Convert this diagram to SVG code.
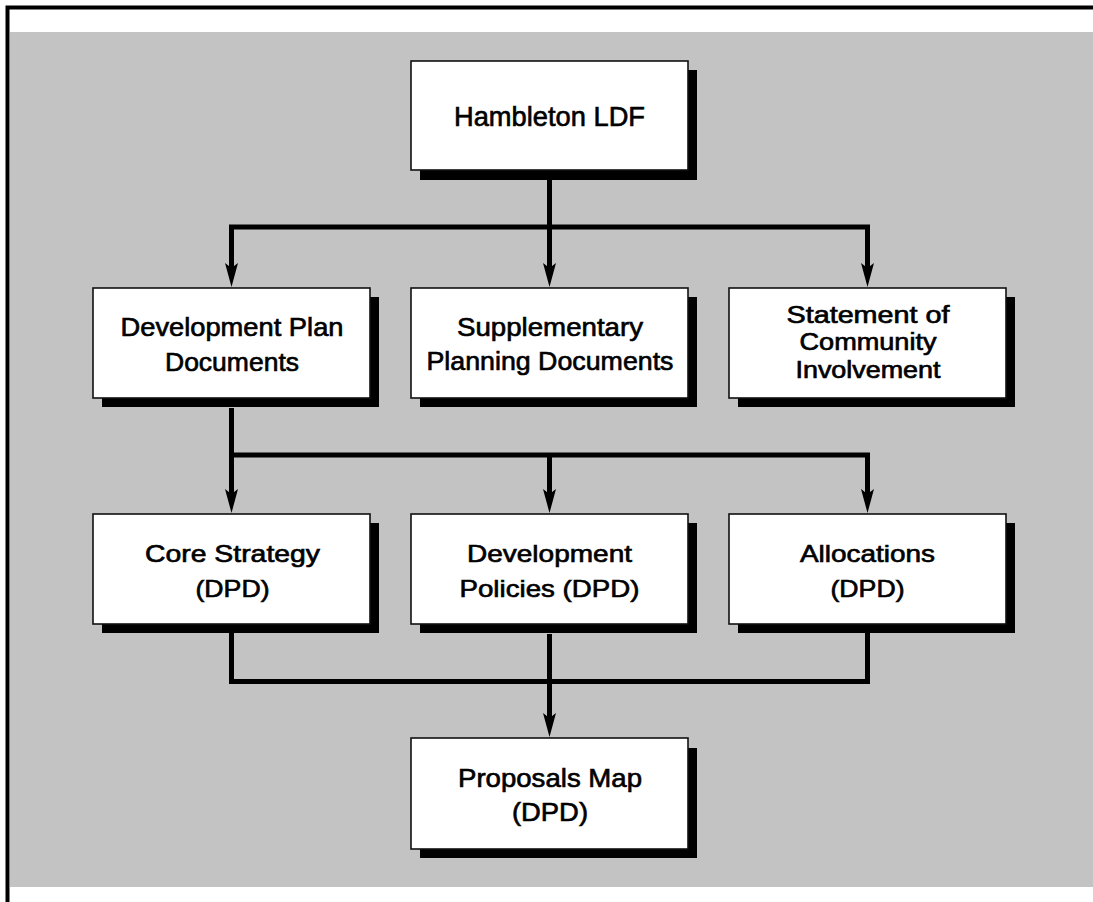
<svg xmlns="http://www.w3.org/2000/svg" width="1093" height="902" viewBox="0 0 1093 902">
<defs>
<style>
.box{fill:#ffffff;stroke:#111;stroke-width:1.6}
.shadow{fill:#000}
.conn{fill:none;stroke:#000;stroke-width:5;stroke-linejoin:miter;stroke-linecap:square}
.arr{fill:none;stroke:#000;stroke-width:5;stroke-linecap:butt}
.t{font-family:"Liberation Sans",Arial,Helvetica,sans-serif;fill:#000;stroke:#000;stroke-width:0.65;text-anchor:middle}
</style>
<marker id="ah" markerUnits="userSpaceOnUse" markerWidth="26" markerHeight="14" viewBox="0 0 26 14" refX="9" refY="7" orient="auto">
<path d="M0,0.5 L24,7 L0,13.5 L5,7 Z" fill="#000"/>
</marker>
</defs>
<rect x="0" y="0" width="1093" height="902" fill="#ffffff"/>
<rect x="10" y="32" width="1083" height="855" fill="#c3c3c3"/>
<path d="M7.5,902 L7.5,7.5 L1093,7.5" fill="none" stroke="#000" stroke-width="4"/>

<g id="connectors">
<path class="arr" d="M549.5,180 L549.5,272" marker-end="url(#ah)"/>
<path class="conn" d="M231.5,227 L867.5,227"/>
<path class="arr" d="M231.5,227 L231.5,272" marker-end="url(#ah)"/>
<path class="arr" d="M867.5,227 L867.5,272" marker-end="url(#ah)"/>
<path class="arr" d="M231.5,408 L231.5,498" marker-end="url(#ah)"/>
<path class="conn" d="M231.5,455 L867.5,455"/>
<path class="arr" d="M549.5,455 L549.5,498" marker-end="url(#ah)"/>
<path class="arr" d="M867.5,455 L867.5,498" marker-end="url(#ah)"/>
<path class="conn" d="M231.5,634 L231.5,681.5 L867.5,681.5 L867.5,634"/>
<path class="arr" d="M549.5,634 L549.5,722" marker-end="url(#ah)"/>
</g>

<g id="hambleton">
<rect class="shadow" x="420" y="70" width="277" height="110"/>
<rect class="box" x="411" y="61" width="277" height="109"/>
<text class="t" x="549.5" y="126" font-size="28" textLength="191" lengthAdjust="spacingAndGlyphs">Hambleton LDF</text>
</g>

<g id="dpd">
<rect class="shadow" x="102" y="297" width="277" height="110"/>
<rect class="box" x="93" y="288" width="277" height="110"/>
<text class="t" x="232" y="336" font-size="26" textLength="223" lengthAdjust="spacingAndGlyphs">Development Plan</text>
<text class="t" x="232" y="370.5" font-size="26" textLength="134" lengthAdjust="spacingAndGlyphs">Documents</text>
</g>

<g id="spd">
<rect class="shadow" x="420" y="297" width="277" height="110"/>
<rect class="box" x="411" y="288" width="277" height="110"/>
<text class="t" x="550" y="335.5" font-size="26" textLength="186" lengthAdjust="spacingAndGlyphs">Supplementary</text>
<text class="t" x="550" y="370" font-size="26" textLength="247" lengthAdjust="spacingAndGlyphs">Planning Documents</text>
</g>

<g id="sci">
<rect class="shadow" x="738" y="297" width="277" height="110"/>
<rect class="box" x="729" y="288" width="277" height="110"/>
<text class="t" x="868" y="322.5" font-size="23" textLength="163" lengthAdjust="spacingAndGlyphs">Statement of</text>
<text class="t" x="868" y="350" font-size="23" textLength="137" lengthAdjust="spacingAndGlyphs">Community</text>
<text class="t" x="868" y="378" font-size="23" textLength="145" lengthAdjust="spacingAndGlyphs">Involvement</text>
</g>

<g id="core">
<rect class="shadow" x="102" y="523" width="277" height="110"/>
<rect class="box" x="93" y="514" width="277" height="110"/>
<text class="t" x="232.5" y="562" font-size="24" textLength="175" lengthAdjust="spacingAndGlyphs">Core Strategy</text>
<text class="t" x="232.5" y="597" font-size="24" textLength="74" lengthAdjust="spacingAndGlyphs">(DPD)</text>
</g>

<g id="devpol">
<rect class="shadow" x="420" y="523" width="277" height="110"/>
<rect class="box" x="411" y="514" width="277" height="110"/>
<text class="t" x="549.5" y="562" font-size="24" textLength="165" lengthAdjust="spacingAndGlyphs">Development</text>
<text class="t" x="549.5" y="597" font-size="24" textLength="180" lengthAdjust="spacingAndGlyphs">Policies (DPD)</text>
</g>

<g id="alloc">
<rect class="shadow" x="738" y="523" width="277" height="110"/>
<rect class="box" x="729" y="514" width="277" height="110"/>
<text class="t" x="867.5" y="562" font-size="24" textLength="135" lengthAdjust="spacingAndGlyphs">Allocations</text>
<text class="t" x="867.5" y="597" font-size="24" textLength="74" lengthAdjust="spacingAndGlyphs">(DPD)</text>
</g>

<g id="proposals">
<rect class="shadow" x="420" y="748" width="277" height="110"/>
<rect class="box" x="411" y="738" width="277" height="111"/>
<text class="t" x="550" y="787" font-size="26" textLength="184" lengthAdjust="spacingAndGlyphs">Proposals Map</text>
<text class="t" x="550" y="821" font-size="26" textLength="76" lengthAdjust="spacingAndGlyphs">(DPD)</text>
</g>
</svg>
